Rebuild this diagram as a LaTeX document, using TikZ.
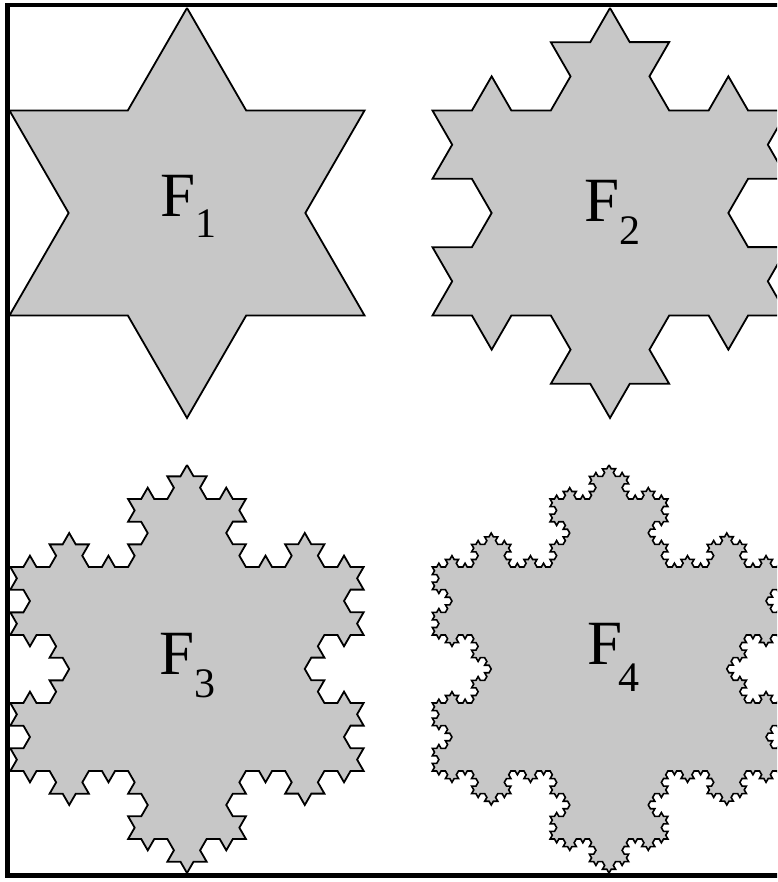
\documentclass[tikz,border=0pt]{standalone}
\usepackage{fontspec}
\setmainfont{Liberation Serif}
\usetikzlibrary{decorations.fractals}
\begin{document}
\begin{tikzpicture}[x=1pt,y=1pt,
  flake/.style={fill=black!22, draw=black, line width=1.8pt, line join=miter, decoration=Koch snowflake},
  lbl/.style={anchor=base west, inner sep=0pt, font=\fontsize{63}{63}\selectfont},
  frame/.style={draw=black, line width=4.5pt}]
\useasboundingbox (0,0) rectangle (777,882);
\clip (0,0) rectangle (777,882);
\fill[white] (0,0) rectangle (777,882);
% F1
\begin{scope}[shift={(187,669)}]
\path[flake] decorate{ (90:205) -- (-30:205) -- (210:205) -- cycle };
\end{scope}
% F2
\begin{scope}[shift={(610,669)}]
\path[flake] decorate{ decorate{ (90:205) -- (-30:205) -- (210:205) -- cycle }};
\end{scope}
% F3
\begin{scope}[shift={(187,213)}]
\path[flake] decorate{ decorate{ decorate{ (90:204) -- (-30:204) -- (210:204) -- cycle }}};
\end{scope}
% F4
\begin{scope}[shift={(609,213)}]
\path[flake, line width=1.6pt] decorate{ decorate{ decorate{ decorate{ (90:204) -- (-30:204) -- (210:204) -- cycle }}}};
\end{scope}
% labels
\node[lbl] (l1) at (160.3,665) {F\raisebox{-21pt}{\fontsize{42}{42}\selectfont 1}};
\node[lbl] (l2) at (584.3,660) {F\raisebox{-23pt}{\fontsize{42}{42}\selectfont 2}};
\node[lbl] (l3) at (159.3,207) {F\raisebox{-23pt}{\fontsize{42}{42}\selectfont 3}};
\node[lbl] (l4) at (587.3,217) {F\kern-4pt\raisebox{-27pt}{\fontsize{42}{42}\selectfont 4}};
% frame
\path[frame] (7.5,877) rectangle (800,6.5);
\end{tikzpicture}
\end{document}
